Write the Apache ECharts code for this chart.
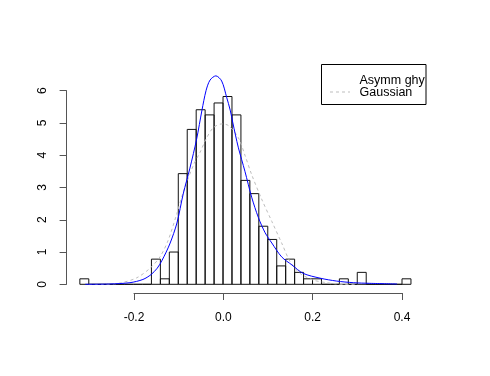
<!DOCTYPE html>
<html>
<head>
<meta charset="utf-8">
<script src="https://cdn.jsdelivr.net/npm/echarts@6/dist/echarts.min.js"></script>
<style>
  html, body { margin: 0; padding: 0; background: #fff; }
  #chart { width: 490px; height: 376px; }
</style>
</head>
<body>
<div id="chart"></div>
<script>
// histogram breaks (bin width 0.02) and density per bin
const breaks = [-0.32, -0.30, -0.28, -0.26, -0.24, -0.22, -0.20, -0.18, -0.16, -0.14,
  -0.12, -0.10, -0.08, -0.06, -0.04, -0.02, 0.00, 0.02, 0.04, 0.06, 0.08, 0.10, 0.12,
  0.14, 0.16, 0.18, 0.20, 0.22, 0.24, 0.26, 0.28, 0.30, 0.32, 0.34, 0.36, 0.38, 0.40, 0.42];
const density = [0.17, 0, 0, 0, 0, 0, 0, 0, 0.78, 0.17, 1.0, 3.43, 4.8, 5.41, 5.25, 5.62,
  5.82, 5.25, 3.22, 2.81, 1.8, 1.39, 0.57, 0.78, 0.37, 0.17, 0.17, 0, 0, 0.17, 0, 0.37,
  0, 0, 0, 0, 0.17];

// fitted densities
const ghypX = [-0.308, -0.253, -0.208, -0.179, -0.161, -0.147, -0.136, -0.119, -0.103,
  -0.089, -0.074, -0.059, -0.047, -0.038, -0.029, -0.016, -0.003, 0.008, 0.016, 0.022,
  0.034, 0.049, 0.064, 0.079, 0.094, 0.109, 0.131, 0.154, 0.179, 0.217, 0.254, 0.291,
  0.328, 0.389];
const ghypY = [0.0, 0.01, 0.05, 0.15, 0.3, 0.5, 0.75, 1.25, 1.9, 2.8, 3.6, 4.5, 5.4, 6.0,
  6.33, 6.46, 6.3, 5.8, 5.4, 5.0, 4.25, 3.5, 2.7, 2.07, 1.6, 1.28, 0.85, 0.6, 0.34, 0.19,
  0.1, 0.05, 0.03, 0.01];
const gaussX = [-0.3, -0.268, -0.23, -0.193, -0.163, -0.141, -0.123, -0.103, -0.089,
  -0.066, -0.051, -0.038, -0.022, -0.003, 0.012, 0.034, 0.049, 0.064, 0.086, 0.109,
  0.132, 0.15, 0.172, 0.202, 0.232, 0.268, 0.3];
const gaussY = [0.0, 0.0, 0.04, 0.2, 0.5, 0.85, 1.35, 2.2, 2.85, 3.7, 4.1, 4.5, 4.85, 4.97,
  4.92, 4.55, 4.0, 3.4, 2.65, 1.95, 1.25, 0.7, 0.34, 0.13, 0.05, 0.0, 0.0];

const xTicks = [-0.2, 0.0, 0.2, 0.4];
const yTicks = [0, 1, 2, 3, 4, 5, 6];
const legendNames = ["Asymm ghyp", "Gaussian"];

const FONT = "Liberation Sans, Arial, sans-serif";
const bins = density.map((d, i) => [breaks[i], breaks[i + 1], d]);
const zip = (xs, ys) => xs.map((x, i) => [x, ys[i]]);

// plot region like R's par(usr): x and y extended by 4%
const plot = { left: 66.6, top: 67.5, width: 357.6, height: 225.5 };
const yPx0 = 284.3, yPx6 = 90.7;
const fmt = (v) => (Math.abs(v) < 1e-9 ? "0.0" : v.toFixed(1));

const chart = echarts.init(document.getElementById("chart"), null, { renderer: "canvas" });
chart.setOption({
  animation: false,
  backgroundColor: "#fff",
  textStyle: { fontFamily: FONT },
  grid: [
    { ...plot },
    // x axis drawn only over the tick span
    { left: 134, width: 268, top: plot.top, height: plot.height },
    // y axis drawn only over the tick span
    { left: plot.left, width: plot.width, top: yPx6, height: yPx0 - yPx6 },
  ],
  xAxis: [
    { gridIndex: 0, type: "value", min: -0.3496, max: 0.4496, show: false },
    {
      gridIndex: 1, type: "value", position: "bottom",
      min: xTicks[0], max: xTicks[xTicks.length - 1], interval: 0.2,
      axisLine: { show: true, lineStyle: { color: "#555", width: 1 } },
      axisTick: { show: true, length: 7, lineStyle: { color: "#555" } },
      axisLabel: { color: "#000", fontSize: 12, margin: 19, formatter: fmt, fontFamily: FONT },
      splitLine: { show: false },
    },
    { gridIndex: 2, type: "value", min: 0, max: 1, show: false },
  ],
  yAxis: [
    { gridIndex: 0, type: "value", min: -0.2696, max: 6.719, show: false },
    { gridIndex: 1, type: "value", min: 0, max: 1, show: false },
    {
      gridIndex: 2, type: "value", position: "left",
      min: yTicks[0], max: yTicks[yTicks.length - 1], interval: 1,
      axisLine: { show: true, lineStyle: { color: "#555", width: 1 } },
      axisTick: { show: true, length: 7, lineStyle: { color: "#555" } },
      axisLabel: { color: "#000", fontSize: 12, margin: 18, rotate: 90, fontFamily: FONT },
      splitLine: { show: false },
    },
  ],
  series: [
    {
      type: "custom",
      xAxisIndex: 0,
      yAxisIndex: 0,
      data: bins,
      encode: { x: [0, 1], y: 2 },
      renderItem: (params, api) => {
        const a = api.coord([api.value(0), 0]);
        const b = api.coord([api.value(1), api.value(2)]);
        return {
          type: "rect",
          shape: { x: a[0], y: b[1], width: b[0] - a[0], height: a[1] - b[1] },
          style: { fill: "none", stroke: "#111", lineWidth: 1 },
        };
      },
    },
    {
      name: legendNames[1],
      type: "line",
      xAxisIndex: 0,
      yAxisIndex: 0,
      data: zip(gaussX, gaussY),
      smooth: 0.3,
      showSymbol: false,
      lineStyle: { color: "#bebebe", width: 1, type: [3, 3] },
    },
    {
      name: legendNames[0],
      type: "line",
      xAxisIndex: 0,
      yAxisIndex: 0,
      data: zip(ghypX, ghypY),
      smooth: 0.3,
      showSymbol: false,
      lineStyle: { color: "#0000ff", width: 1 },
    },
  ],
  graphic: [
    {
      type: "rect",
      shape: { x: 321.5, y: 64.5, width: 104.5, height: 40 },
      style: { fill: "#fff", stroke: "#000", lineWidth: 1 },
    },
    {
      type: "line",
      shape: { x1: 330, y1: 92, x2: 350, y2: 92 },
      style: { stroke: "#bebebe", lineWidth: 1, lineDash: [3, 3] },
    },
    {
      type: "text",
      x: 359.5, y: 80.5,
      style: {
        text: legendNames[0], font: "12.5px " + FONT, fill: "#000",
        verticalAlign: "middle", width: 69, overflow: "truncate", ellipsis: "",
      },
    },
    {
      type: "text",
      x: 359.5, y: 93,
      style: { text: legendNames[1], font: "12.5px " + FONT, fill: "#000", verticalAlign: "middle" },
    },
  ],
});
</script>
</body>
</html>
